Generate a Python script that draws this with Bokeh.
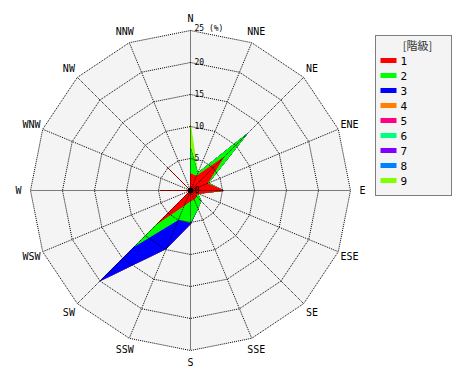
import math
from bokeh.plotting import figure
from bokeh.models import Range1d
from bokeh.core.properties import value
from bokeh.embed import file_html
from bokeh.resources import INLINE

# ---- data -------------------------------------------------------------
directions = ["N", "NNE", "NE", "ENE", "E", "ESE", "SE", "SSE",
              "S", "SSW", "SW", "WSW", "W", "WNW", "NW", "NNW"]
class_labels = ["1", "2", "3", "4", "5", "6", "7", "8", "9"]
class_colors = ["#ff0000", "#00ff00", "#0000ff", "#ff8000", "#ff0080",
                "#00ff80", "#8000ff", "#0080ff", "#80ff00"]
# frequency (%) per class and direction
c1 = [2.6, 2.4, 7.2, 2.8, 5.1, 1.2, 1.3, 1.5, 1.6, 2.5, 7.2, 0, 4.7, 0, 5.0, 0]
c2 = [3.9, 0.5, 5.2, 0.2, 0, 0, 1.0, 1.5, 3.4, 2.4, 5.0, 0, 0, 0, 0, 0]
c3 = [0, 0, 0, 0, 0, 0, 0, 0, 0.2, 4.9, 7.7, 0, 0, 0, 0, 0]
c4 = [0] * 16
c5 = [0] * 16
c6 = [0] * 16
c7 = [0] * 16
c8 = [0] * 16
c9 = [3.7, 0, 0, 0, 0, 0, 0, 0, 0, 0, 0, 0, 0, 0, 0, 0]
ring_values = [0, 5, 10, 15, 20, 25]
ring_labels = ["0", "5", "10", "15", "20", "25 (%)"]
legend_title = "[階級]"

# ---- layout -----------------------------------------------------------
W, H = 462, 372
S = 6.4            # px per %
CX, CY = 190, 190  # center in figure px
RMAX = 25

def px(fx, fy):
    return ((fx - CX) / S, (CY - fy) / S)

p = figure(width=W, height=H, output_backend="svg", toolbar_location=None,
           x_range=Range1d(-CX / S, (W - CX) / S),
           y_range=Range1d(-(H - CY) / S, CY / S), min_border=0)
p.axis.visible = False
p.grid.visible = False
p.outline_line_color = None
p.background_fill_color = "white"
p.border_fill_color = "white"

angles = [math.radians(22.5 * i) for i in range(16)]

def polar(vals):
    xs = [v * math.sin(a) for v, a in zip(vals, angles)]
    ys = [v * math.cos(a) for v, a in zip(vals, angles)]
    return xs, ys

# background of the rose
bx, by = polar([RMAX] * 16)
p.patch(bx, by, fill_color="#f4f4f4", line_color=None)

# stacked polygons, largest cumulative first
classes = [c1, c2, c3, c4, c5, c6, c7, c8, c9]
cums = []
acc = [0.0] * 16
for c in classes:
    acc = [a + v for a, v in zip(acc, c)]
    cums.append(list(acc))
for k in range(8, -1, -1):
    xs, ys = polar(cums[k])
    p.patch(xs, ys, fill_color=class_colors[k], line_color=class_colors[k],
            line_width=1)

# grid
for r in ring_values[1:]:
    xs, ys = polar([r] * 16)
    p.line(xs + [xs[0]], ys + [ys[0]], line_color="black", line_width=1,
           line_dash="1 1")
ox, oy = polar([RMAX] * 16)
p.segment(x0=[0] * 16, y0=[0] * 16, x1=ox, y1=oy, line_color="black",
          line_width=1, line_dash="1 1")
p.scatter([0], [0], size=5, color="black")

# ring labels
p.text(x=[0] * len(ring_values), y=ring_values, text=ring_labels,
       x_offset=4, y_offset=2, text_baseline="bottom", text_align="left",
       text_font=value("DejaVu Sans Mono"), text_font_size="8px",
       text_color="black")

# direction labels
lr = RMAX * 172 / 160
lx, ly = polar([lr] * 16)
p.text(x=lx, y=ly, text=directions, text_align="center",
       text_baseline="middle", text_font=value("DejaVu Sans Mono"),
       text_font_size="10px", text_color="black")

# legend
x0, y0 = px(375, 35)
x1, y1 = px(451, 195)
p.quad(left=[x0], right=[x1], top=[y0], bottom=[y1], fill_color="#f4f4f4",
       line_color="black", line_dash="1 1", line_width=1)
tx, ty = px(417, 44)
p.text(x=[tx], y=[ty], text=[legend_title], text_align="center",
       text_baseline="middle", text_font=value("Noto Sans CJK JP"),
       text_font_size="11px", text_color="#333333")
sl, sr, lbl_x, sy = [], [], [], []
for i in range(9):
    fy = 60 + 15 * i
    a, b = px(380, fy)
    c, _ = px(396, fy)
    d, _ = px(400, fy)
    sl.append(a); sr.append(c); lbl_x.append(d); sy.append(b)
half = 2.5 / S
p.quad(left=sl, right=sr, top=[v + half for v in sy],
       bottom=[v - half for v in sy], fill_color=class_colors,
       line_color=None)
p.text(x=lbl_x, y=sy, text=class_labels, text_align="left",
       text_baseline="middle", text_font=value("DejaVu Sans Mono"),
       text_font_size="11px", text_color="black")

open("out.html", "w").write(file_html(p, INLINE))
